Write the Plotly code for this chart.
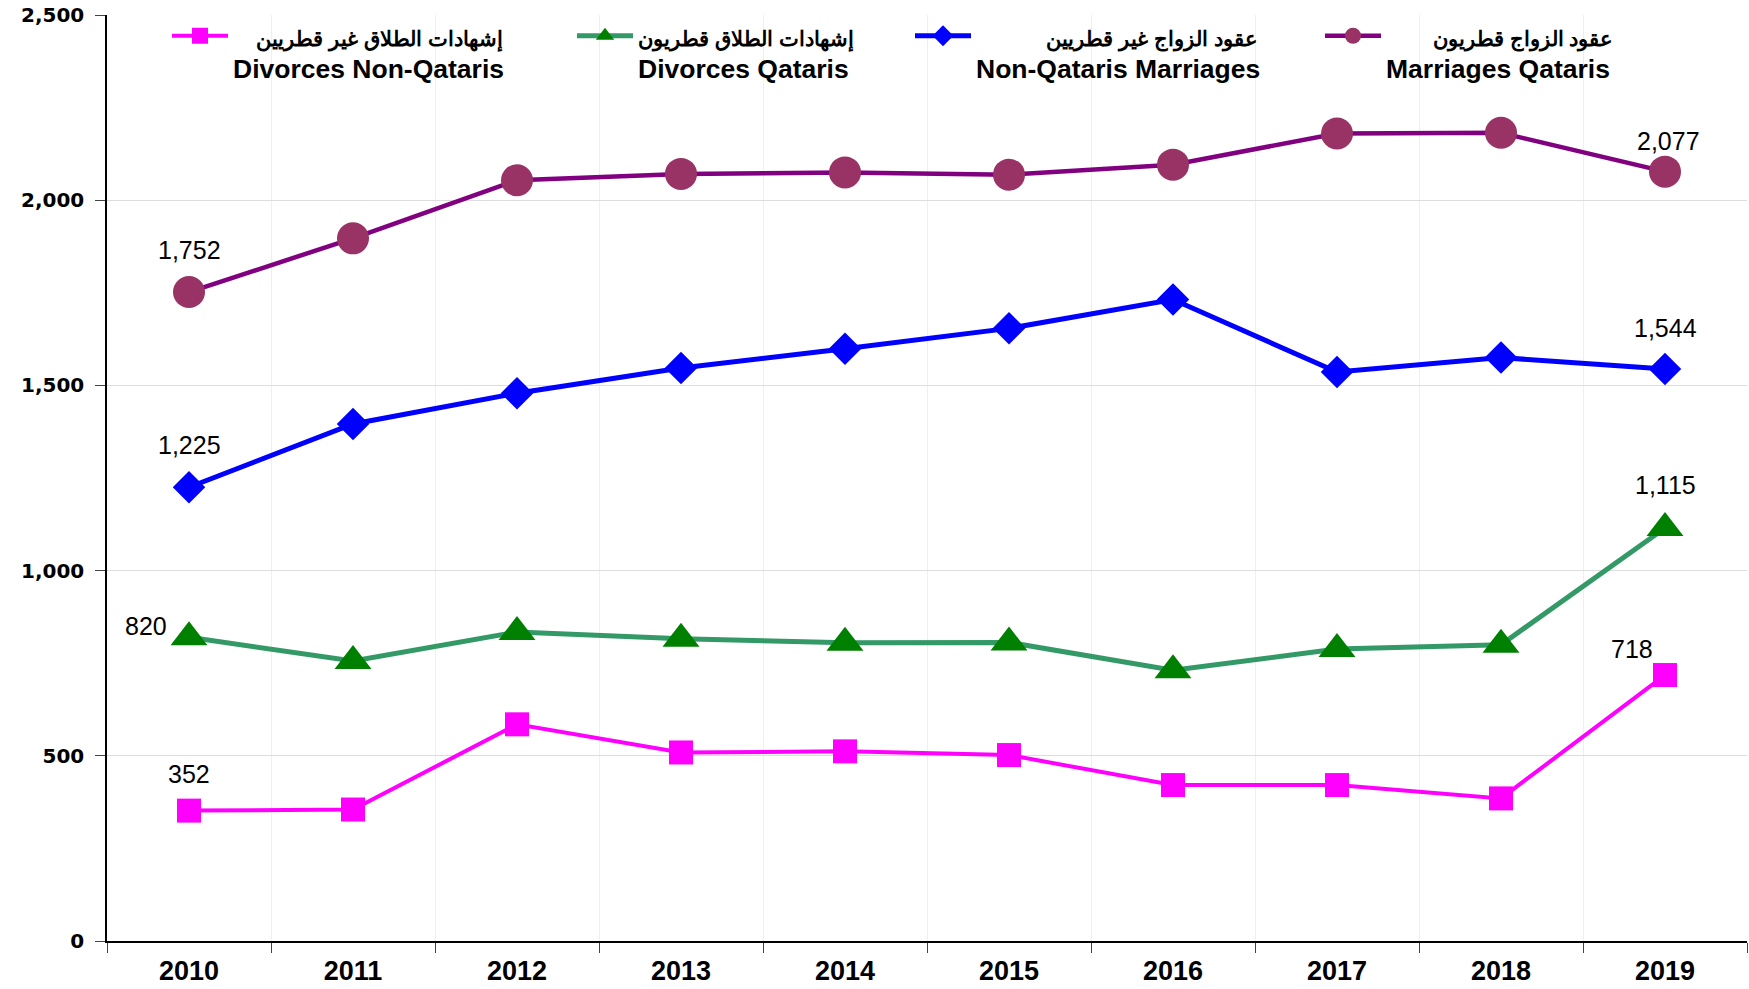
import plotly.graph_objects as go

years = ["2010", "2011", "2012", "2013", "2014", "2015", "2016", "2017", "2018", "2019"]
marriages_qataris = [1752, 1897, 2054, 2071, 2075, 2069, 2096, 2180, 2182, 2077]
marriages_non_qataris = [1225, 1396, 1479, 1547, 1599, 1654, 1732, 1536, 1575, 1544]
divorces_qataris = [820, 756, 834, 816, 805, 806, 731, 788, 800, 1115]
divorces_non_qataris = [352, 355, 585, 509, 512, 502, 421, 421, 385, 718]

names = {
    "dnq": ("إشهادات الطلاق غير قطريين", "Divorces Non-Qataris"),
    "dq": ("إشهادات الطلاق قطريون", "Divorces Qataris"),
    "mnq": ("عقود الزواج غير قطريين", "Non-Qataris Marriages"),
    "mq": ("عقود الزواج قطريون", "Marriages Qataris"),
}

NB = "\u00a0"

def legname(key, pad):
    ar, en = names[key]
    return ('<span style="font-size:21px">' + NB * pad + ar + '</span><br>'
            '<span style="font-size:26.5px">' + en + '</span>')

fig = go.Figure()

series = [
    ("dnq", divorces_non_qataris, "#FF00FF", "#FF00FF", "square", 24, 4, "legend", 4),
    ("dq", divorces_qataris, "#339966", "#008000", "triangle-up", 32, 5, "legend2", 0),
    ("mnq", marriages_non_qataris, "#0000FF", "#0000FF", "diamond", 25, 5, "legend3", 12),
    ("mq", marriages_qataris, "#800080", "#993366", "circle", 32, 4.5, "legend4", 8),
]

for key, vals, lc, mc, sym, ms, lw, leg, pad in series:
    fig.add_trace(go.Scatter(
        x=years, y=vals, mode="lines+markers",
        name=legname(key, pad),
        line=dict(color=lc, width=lw),
        marker=dict(color=mc, symbol=sym, size=ms, line=dict(width=0)),
        legend=leg,
    ))

# data labels for first and last points (category index positions)
label_specs = [
    (marriages_qataris, 0, 0, 42),
    (marriages_qataris, len(years) - 1, 3, 31),
    (marriages_non_qataris, 0, 0, 42),
    (marriages_non_qataris, len(years) - 1, 0, 41),
    (divorces_qataris, 0, -43, 11),
    (divorces_qataris, len(years) - 1, 0, 43),
    (divorces_non_qataris, 0, 0, 37),
    (divorces_non_qataris, len(years) - 1, -33, 26),
]
for vals, idx, xs, ys in label_specs:
    fig.add_annotation(
        x=idx, y=vals[idx], xref="x", yref="y", text=f"{vals[idx]:,}",
        showarrow=False, xshift=xs, yshift=ys,
        xanchor="center", yanchor="middle",
        font=dict(family="Liberation Sans, Arial", size=25, color="black"),
    )

legfont = dict(family="Liberation Sans, Arial", size=25, color="black", weight="bold")
leg_common = dict(orientation="h", yanchor="top", xanchor="left", bgcolor="rgba(0,0,0,0)",
                  font=legfont, itemwidth=56, valign="top", borderwidth=0)

PL, PW, PB, PH = 107, 1640, 941, 926
def px2paper(px):
    return (px - PL) / PW
def py2paper(py):
    return (PB - py) / PH

fig.update_layout(
    width=1749, height=989,
    margin=dict(l=107, r=2, t=15, b=48, autoexpand=False),
    paper_bgcolor="white", plot_bgcolor="white",
    showlegend=True,
    legend=dict(x=px2paper(167), y=py2paper(13), **leg_common),
    legend2=dict(x=px2paper(572), y=py2paper(13), **leg_common),
    legend3=dict(x=px2paper(910), y=py2paper(13), **leg_common),
    legend4=dict(x=px2paper(1320), y=py2paper(13), **leg_common),
    xaxis=dict(
        type="category", range=[-0.5, 9.5], automargin=False,
        tickson="boundaries", ticks="outside", ticklen=10, tickcolor="#444",
        showgrid=True, gridcolor="#efefef", gridwidth=1,
        showline=True, linecolor="black", linewidth=2,
        tickfont=dict(family="Liberation Sans, Arial", size=27, color="black", weight="bold"),
        ticklabelstandoff=5,
    ),
    yaxis=dict(
        range=[0, 2500], dtick=500, tickformat=",", automargin=False,
        ticks="outside", ticklen=10, tickcolor="#444",
        showgrid=True, gridcolor="#dddddd", gridwidth=1,
        showline=True, linecolor="black", linewidth=1.5,
        tickfont=dict(family="DejaVu Sans", size=20, color="black", weight="bold"),
        ticklabelstandoff=7, zeroline=False, ticklabeloverflow="allow",
    ),
)

fig.write_html("out.html", config={"displayModeBar": False},
               post_script="document.body.style.margin='0';")
